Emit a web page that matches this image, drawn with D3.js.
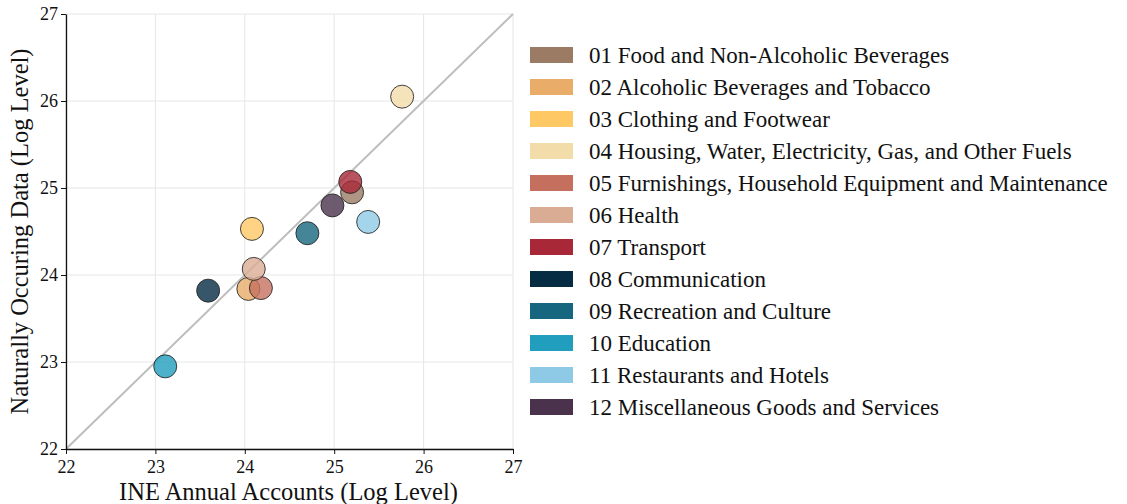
<!DOCTYPE html>
<html><head><meta charset="utf-8">
<script src="https://cdn.jsdelivr.net/npm/d3@7"></script>
<style>body{margin:0;background:#fff}svg{display:block}</style>
</head><body><svg id="c" width="1127" height="504"></svg>
<script>
const categories = ["01 Food and Non-Alcoholic Beverages","02 Alcoholic Beverages and Tobacco","03 Clothing and Footwear","04 Housing, Water, Electricity, Gas, and Other Fuels","05 Furnishings, Household Equipment and Maintenance","06 Health","07 Transport","08 Communication","09 Recreation and Culture","10 Education","11 Restaurants and Hotels","12 Miscellaneous Goods and Services"];
const ineValues = [25.20, 24.04, 24.08, 25.76, 24.18, 24.10, 25.18, 23.59, 24.70, 23.11, 25.38, 24.98];
const naturalValues = [24.95, 23.84, 24.53, 26.05, 23.85, 24.07, 25.07, 23.82, 24.48, 22.95, 24.61, 24.80];
const colors = ["#9b7b64","#e9ad69","#fec865","#f1dcaa","#c5705f","#dbac94","#a82838","#062c44","#15667e","#219ebd","#8ecae6","#4b324c"];
const tickValues = [22,23,24,25,26,27];

const font = "'Liberation Serif', serif";
const svg = d3.select("#c");
const L=66, R=513, T=14, B=449;
const x = d3.scaleLinear().domain([22,27]).range([L,R]);
const y = d3.scaleLinear().domain([22,27]).range([B,T]);

// grid
const g = svg.append("g");
g.selectAll(".gx").data(tickValues).join("line")
  .attr("x1",d=>x(d)).attr("x2",d=>x(d)).attr("y1",T).attr("y2",B)
  .attr("stroke","#e6e6e6").attr("stroke-width",1);
g.selectAll(".gy").data(tickValues).join("line")
  .attr("y1",d=>y(d)).attr("y2",d=>y(d)).attr("x1",L).attr("x2",R)
  .attr("stroke","#e6e6e6").attr("stroke-width",1);

// diagonal
svg.append("line").attr("x1",x(22)).attr("y1",y(22)).attr("x2",x(27)).attr("y2",y(27))
  .attr("stroke","#bdbdbd").attr("stroke-width",2);

// axes
const xa = svg.append("g").attr("transform",`translate(0,${B})`)
  .call(d3.axisBottom(x).tickValues(tickValues).tickSize(5).tickSizeOuter(0).tickFormat(d3.format("d")));
const ya = svg.append("g").attr("transform",`translate(${L},0)`)
  .call(d3.axisLeft(y).tickValues(tickValues).tickSize(5).tickSizeOuter(0).tickFormat(d3.format("d")));
[xa,ya].forEach(a=>{
  a.select(".domain").attr("stroke","#111").attr("stroke-width",1.3);
  a.selectAll(".tick line").attr("stroke","#111");
  a.selectAll("text").attr("font-family",font).attr("font-size",18).attr("fill","#111");
});
xa.selectAll("text").attr("dy","0.9em");

// points
svg.append("g").selectAll("circle").data(categories).join("circle")
  .attr("cx",(d,i)=>x(ineValues[i])).attr("cy",(d,i)=>y(naturalValues[i]))
  .attr("r",11.5).attr("fill",(d,i)=>colors[i]).attr("fill-opacity",0.8)
  .attr("stroke","#222").attr("stroke-width",1).attr("stroke-opacity",0.85);

// axis labels
svg.append("text").attr("x",(L+R)/2 - 1).attr("y",500).attr("text-anchor","middle")
  .attr("font-family",font).attr("font-size",24.5).attr("fill","#111").text("INE Annual Accounts (Log Level)");
svg.append("text").attr("transform",`translate(28,${(T+B)/2}) rotate(-90)`).attr("text-anchor","middle")
  .attr("font-family",font).attr("font-size",24.5).attr("fill","#111").text("Naturally Occuring Data (Log Level)");

// legend
const lg = svg.append("g");
const rows = lg.selectAll("g").data(categories).join("g")
  .attr("transform",(d,i)=>`translate(530,${55+i*32})`);
rows.append("rect").attr("x",0).attr("y",-8).attr("width",43).attr("height",16)
  .attr("fill",(d,i)=>colors[i]);
rows.append("text").attr("x",59).attr("y",0).attr("dy","0.35em")
  .attr("font-family",font).attr("font-size",23).attr("fill","#111").text(d=>d);
</script></body></html>
